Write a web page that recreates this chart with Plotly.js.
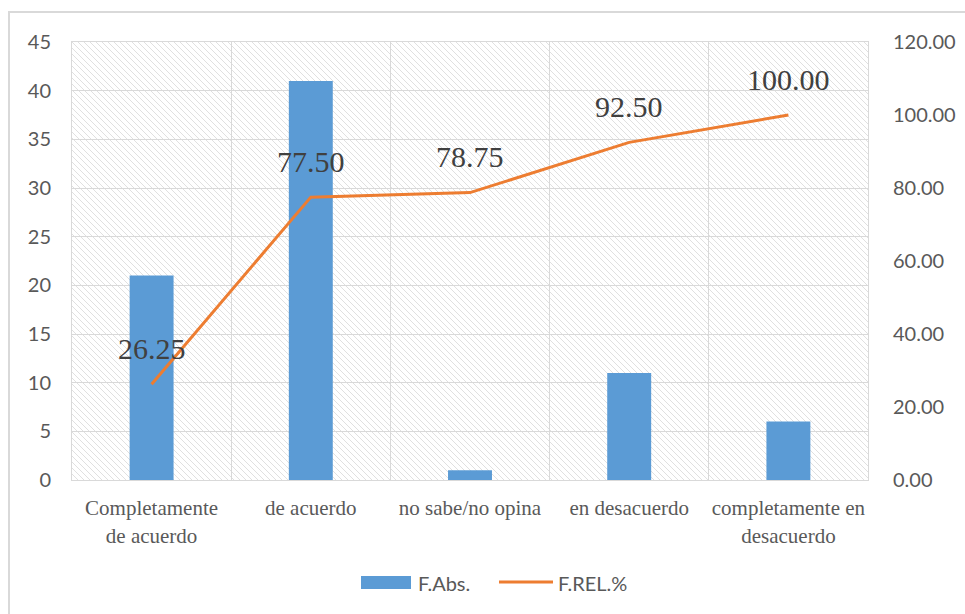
<!DOCTYPE html>
<html>
<head>
<meta charset="utf-8">
<script src="https://cdn.plot.ly/plotly-3.0.1.min.js"></script>
<style>
  html, body { margin: 0; padding: 0; background: #ffffff; overflow: hidden; }
  #wrap { position: relative; width: 965px; height: 614px; }
  #chart { position: absolute; left: 0; top: 0; width: 965px; height: 614px; }
  #frame { position: absolute; left: 8px; top: 11px; width: 1000px; height: 700px;
           border-left: 2px solid #d9d9d9; border-top: 2px solid #d9d9d9; pointer-events: none; }
</style>
</head>
<body>
<div id="wrap">
  <div id="chart"></div>
  <div id="frame"></div>
</div>
<script>
// Survey answers: absolute frequency and cumulative relative frequency (%)
const categories = [
  "Completamente<br>de acuerdo",
  "de acuerdo",
  "no sabe/no opina",
  "en desacuerdo",
  "completamente en<br>desacuerdo"
];
const fAbs = [21, 41, 1, 11, 6];
const fRelPct = [26.25, 77.50, 78.75, 92.50, 100.00];
const seriesNames = ["F.Abs.", "F.REL.%"];

const W = 965, H = 614;
const M = { l: 72, r: 97, t: 42, b: 134 };
const PW = W - M.l - M.r, PH = H - M.t - M.b;
// pixel -> paper helpers for the hand-placed legend
const px = x => (x - M.l) / PW;
const py = y => (H - M.b - y) / PH;

const BLUE = "#5b9bd5", ORANGE = "#ed7d31", GRID = "#d9d9d9", TXT = "#595959";

// diagonal hatch used as the plot-area background
const hatch =
  '<svg xmlns="http://www.w3.org/2000/svg" width="' + PW + '" height="' + PH + '">' +
  '<defs><pattern id="h" patternUnits="userSpaceOnUse" width="6" height="6">' +
  '<path d="M-1,-1 L7,7 M-1,5 L1,7 M5,-1 L7,1" stroke="#e0e0e0" stroke-width="1"/>' +
  '</pattern></defs><rect width="100%" height="100%" fill="url(#h)"/></svg>';

const traces = [
  {
    type: "bar", name: seriesNames[0], x: categories, y: fAbs,
    marker: { color: BLUE }, yaxis: "y", showlegend: false, hoverinfo: "x+y"
  },
  {
    type: "scatter", mode: "lines", name: seriesNames[1], x: categories, y: fRelPct,
    line: { color: ORANGE, width: 3 }, yaxis: "y2", showlegend: false
  }
];

const annotations = fRelPct.map((v, i) => ({
  x: categories[i], y: v, xref: "x", yref: "y2",
  text: v.toFixed(2), showarrow: false, yanchor: "middle", yshift: 36,
  font: { family: "Liberation Serif, Times New Roman, serif", size: 30, color: "#404040" }
}));

// legend entries
annotations.push(
  { xref: "paper", yref: "paper", x: px(416), y: py(583), xanchor: "left", yanchor: "middle",
    text: seriesNames[0], showarrow: false, font: { family: "Lato, sans-serif", size: 20, color: TXT } },
  { xref: "paper", yref: "paper", x: px(556), y: py(583), xanchor: "left", yanchor: "middle",
    text: seriesNames[1], showarrow: false, font: { family: "Lato, sans-serif", size: 20, color: TXT } }
);

const shapes = [
  { type: "rect", xref: "paper", yref: "paper", x0: px(361), x1: px(411), y0: py(589), y1: py(576),
    fillcolor: BLUE, line: { width: 0 } },
  { type: "line", xref: "paper", yref: "paper", x0: px(499), x1: px(553), y0: py(582), y1: py(582),
    line: { color: ORANGE, width: 3 } }
];

const layout = {
  width: W, height: H,
  margin: M,
  paper_bgcolor: "#ffffff", plot_bgcolor: "#ffffff",
  showlegend: false,
  bargap: 0.724,
  font: { family: "Lato, sans-serif", color: TXT },
  xaxis: {
    type: "category", tickson: "boundaries", showgrid: true, gridcolor: GRID, gridwidth: 1,
    showline: true, linecolor: GRID, linewidth: 1, mirror: true, ticks: "",
    tickangle: 0, ticklabelstandoff: 9,
    tickfont: { family: "Liberation Serif, Times New Roman, serif", size: 21, color: TXT }
  },
  yaxis: {
    range: [0, 45], dtick: 5, showgrid: true, gridcolor: GRID, zeroline: false,
    showline: true, linecolor: GRID, mirror: true,
    ticks: "outside", ticklen: 16, tickcolor: "rgba(0,0,0,0)",
    tickfont: { family: "Lato, sans-serif", size: 20, color: TXT }
  },
  yaxis2: {
    overlaying: "y", side: "right", range: [0, 120], dtick: 20, tickformat: ".2f",
    showgrid: false, zeroline: false, showline: false,
    ticks: "outside", ticklen: 20, tickcolor: "rgba(0,0,0,0)",
    tickfont: { family: "Lato, sans-serif", size: 20, color: TXT }
  },
  images: [{
    source: "data:image/svg+xml;charset=utf-8," + encodeURIComponent(hatch),
    xref: "paper", yref: "paper", x: 0, y: 1, sizex: 1, sizey: 1,
    xanchor: "left", yanchor: "top", sizing: "stretch", layer: "below"
  }],
  annotations: annotations,
  shapes: shapes
};

Plotly.newPlot("chart", traces, layout, { displayModeBar: false, staticPlot: true });
</script>
</body>
</html>
